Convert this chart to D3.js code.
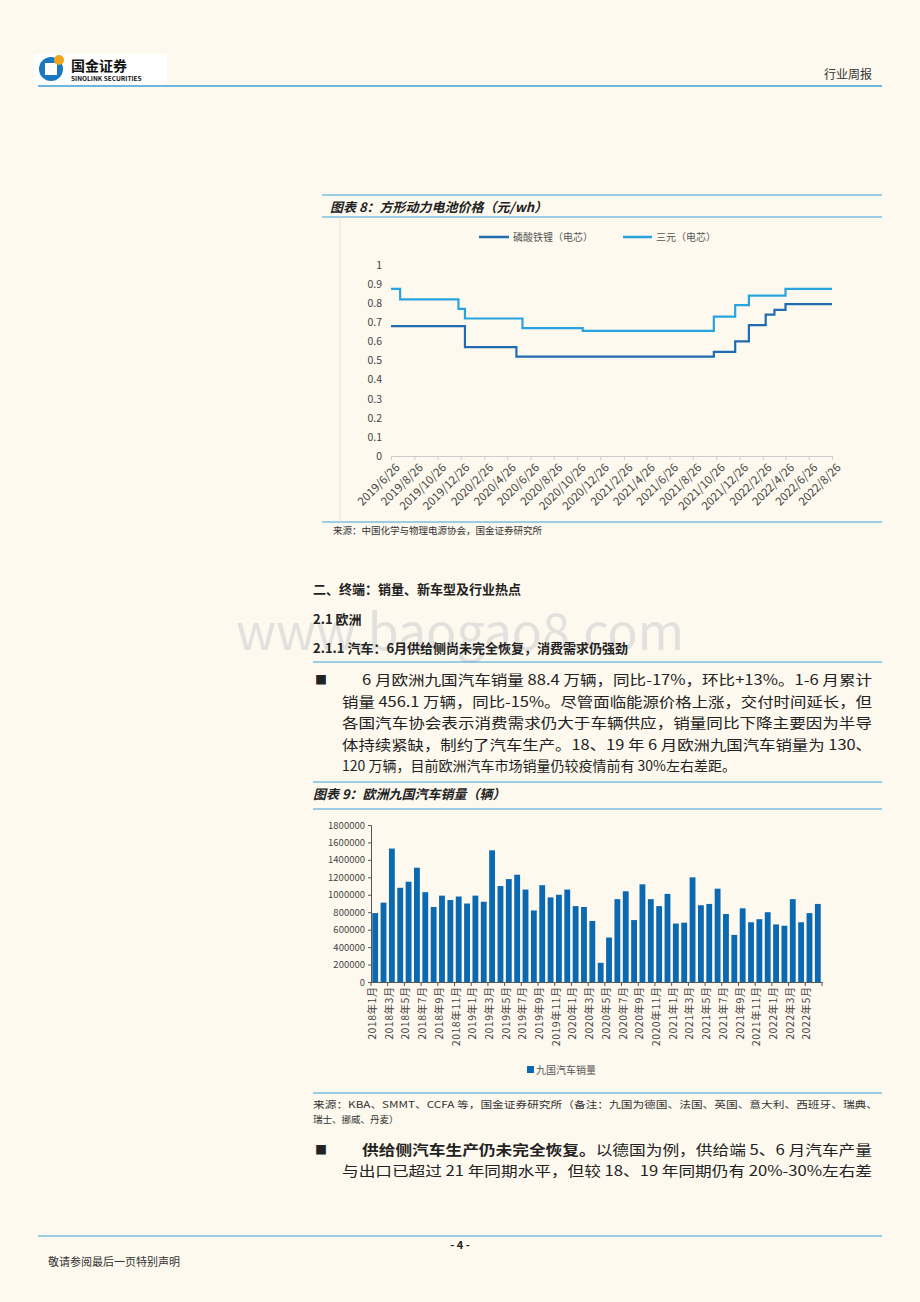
<!DOCTYPE html>
<html><head><meta charset="utf-8">
<script src="https://cdn.jsdelivr.net/npm/d3@7"></script>
<style>body{margin:0;background:#fdf9ee}svg{display:block}text{font-family:"Noto Sans CJK SC","Liberation Sans",sans-serif}</style>
</head><body><svg id="p" width="920" height="1302"></svg>
<script>
// Chart 8 data
const lineTicks=["2019/6/26","2019/8/26","2019/10/26","2019/12/26","2020/2/26","2020/4/26","2020/6/26","2020/8/26","2020/10/26","2020/12/26","2021/2/26","2021/4/26","2021/6/26","2021/8/26","2021/10/26","2021/12/26","2022/2/26","2022/4/26","2022/6/26","2022/8/26"];
const lfpDates=["2019/6/26","2020/1/6","2020/5/20","2021/10/20","2021/12/15","2022/1/20","2022/3/5","2022/3/28","2022/4/26","2022/8/26"];
const lfpValues=[0.68,0.57,0.52,0.545,0.60,0.685,0.74,0.765,0.795,0.795];
const ncmDates=["2019/6/26","2019/7/20","2019/12/20","2020/1/6","2020/6/5","2020/11/10","2021/10/20","2021/12/15","2022/1/20","2022/4/26","2022/8/26"];
const ncmValues=[0.875,0.82,0.77,0.72,0.67,0.655,0.73,0.79,0.84,0.875,0.875];
const seriesNames=["磷酸铁锂（电芯）","三元（电芯）"];
// Chart 9 data
const months=[];for(let y=2018;y<=2022;y++)for(let m=1;m<=12;m++){if(y===2022&&m>6)break;months.push(y+"年"+m+"月");}
const sales=[790000,910000,1530000,1080000,1150000,1310000,1030000,860000,990000,940000,980000,900000,
990000,920000,1510000,1100000,1180000,1230000,1060000,820000,1110000,970000,1000000,1060000,
870000,860000,700000,220000,510000,950000,1040000,710000,1120000,950000,870000,1010000,
670000,680000,1200000,880000,895000,1070000,780000,540000,845000,685000,720000,800000,
660000,645000,950000,685000,790000,895000];
const salesTicks=[0,200000,400000,600000,800000,1000000,1200000,1400000,1600000,1800000];

const svg=d3.select("#p");
const T=(x,y,s,o={})=>{const t=svg.append("text").attr("x",x).attr("y",y).text(s).attr("font-size",o.fs||14).attr("fill",o.c||"#222");
 if(o.b)t.attr("font-weight","bold");if(o.i)t.attr("font-style","italic");if(o.a)t.attr("text-anchor",o.a);return t;};
const L=(x1,y1,x2,y2,c,w)=>svg.append("line").attr("x1",x1).attr("y1",y1).attr("x2",x2).attr("y2",y2).attr("stroke",c).attr("stroke-width",w);
// watermark (behind)
T(460,650,"www.baogao8.com",{fs:50,c:"#d8d8d8",a:"middle"}).attr("font-family","Liberation Sans").attr("opacity",0.7);
// header
svg.append("rect").attr("x",34).attr("y",54).attr("width",133).attr("height",30).attr("fill","#fff");
svg.append("circle").attr("cx",51).attr("cy",69).attr("r",12).attr("fill","#1a78c2");
svg.append("rect").attr("x",45).attr("y",63).attr("width",12).attr("height",12).attr("fill","#fff");
svg.append("circle").attr("cx",59).attr("cy",60).attr("r",5).attr("fill","#f3a51b");
T(71,71,"国金证券",{fs:14,b:1,c:"#111"});
T(71,81,"SINOLINK SECURITIES",{fs:6.5,b:1,c:"#111"});
L(38,86,882,86,"#3aa0d8",1.5);
T(872,79,"行业周报",{fs:12,a:"end",c:"#333"});
// Fig 8 frame
L(322,195,882,195,"#3aa0d8",1);
T(330,212,"图表 8：方形动力电池价格（元/wh）",{fs:13,b:1,i:1});
L(322,217,882,217,"#3aa0d8",1);
L(322,522,882,522,"#3aa0d8",1);
L(340,217,340,522,"#e5e2da",1);
T(333,534,"来源：中国化学与物理电源协会，国金证券研究所",{fs:9.5,c:"#333"});
// chart 8
const pd=d3.timeParse("%Y/%m/%d");
const x8=d3.scaleTime().domain([pd("2019/6/26"),pd("2022/8/26")]).range([391,832]);
const y8=d3.scaleLinear().domain([0,1]).range([456,265]);
const g8=svg.append("g");
const yA=g8.append("g").attr("transform","translate(391,0)").call(d3.axisLeft(y8).tickValues(d3.range(0,1.01,0.1)).tickFormat(d=>d3.format("~g")(+d.toFixed(1))).tickSize(0).tickPadding(9));
yA.select(".domain").remove();
yA.selectAll("text").attr("font-size",10.5).attr("fill","#444").attr("font-family","Liberation Sans");
const xA=g8.append("g").attr("transform","translate(0,456)").call(d3.axisBottom(x8).tickValues(lineTicks.map(pd)).tickFormat((d,i)=>lineTicks[i]).tickSize(4));
xA.select(".domain").attr("stroke","#ccc");xA.selectAll("line").attr("stroke","#ccc");
xA.selectAll("text").attr("font-size",11.5).attr("fill","#444").attr("font-family","Liberation Sans").attr("text-anchor","end").attr("transform","rotate(-45)").attr("dx","-0.2em").attr("dy","0.7em");
const step=d3.line().x(d=>x8(d[0])).y(d=>y8(d[1])).curve(d3.curveStepAfter);
g8.append("path").datum(ncmDates.map((d,i)=>[pd(d),ncmValues[i]])).attr("d",step).attr("fill","none").attr("stroke","#27a4e0").attr("stroke-width",2.2);
g8.append("path").datum(lfpDates.map((d,i)=>[pd(d),lfpValues[i]])).attr("d",step).attr("fill","none").attr("stroke","#1f6cb0").attr("stroke-width",2.2);
L(479,237,509,237,"#1f6cb0",2.5);T(513,241,seriesNames[0],{fs:10,c:"#555"});
L(623,237,652,237,"#27a4e0",2.5);T(656,241,seriesNames[1],{fs:10,c:"#555"});
// text section
T(313,594,"二、终端：销量、新车型及行业热点",{fs:13,b:1});
T(313,624,"2.1 欧洲",{fs:13,b:1});
T(313,653,"2.1.1 汽车：6月供给侧尚未完全恢复，消费需求仍强劲",{fs:13,b:1});
L(313,662,882,662,"#3aa0d8",1);
T(315,685,"■",{fs:12});
const para=["6 月欧洲九国汽车销量 88.4 万辆，同比-17%，环比+13%。1-6 月累计","销量 456.1 万辆，同比-15%。尽管面临能源价格上涨，交付时间延长，但","各国汽车协会表示消费需求仍大于车辆供应，销量同比下降主要因为半导","体持续紧缺，制约了汽车生产。18、19 年 6 月欧洲九国汽车销量为 130、","120 万辆，目前欧洲汽车市场销量仍较疫情前有 30%左右差距。"];
para.forEach((s,i)=>T(i?342:362,685+i*21.5,s,{fs:14,c:"#222"}).attr("textLength",i===4?null:(i?530:510)).attr("lengthAdjust","spacingAndGlyphs"));
L(313,782,882,782,"#3aa0d8",1);
T(313,799,"图表 9：欧洲九国汽车销量（辆）",{fs:13,b:1,i:1});
L(313,809,882,809,"#3aa0d8",1);
// chart 9
const x9=d3.scaleBand().domain(months).range([371,822]).paddingInner(0.3).paddingOuter(0.15);
const y9=d3.scaleLinear().domain([0,1800000]).range([982,825]);
const g9=svg.append("g");
g9.selectAll("rect").data(sales).join("rect").attr("x",(d,i)=>x9(months[i])).attr("width",x9.bandwidth()).attr("y",d=>y9(d)).attr("height",d=>982-y9(d)).attr("fill","#0b69b2");
const yB=g9.append("g").attr("transform","translate(371,0)").call(d3.axisLeft(y9).tickValues(salesTicks).tickFormat(d3.format("d")).tickSize(3));
yB.select(".domain").attr("stroke","#555");yB.selectAll("line").attr("stroke","#555");
yB.selectAll("text").attr("font-size",9.5).attr("fill","#444").attr("font-family","Liberation Sans");
const xB=g9.append("g").attr("transform","translate(0,982)").call(d3.axisBottom(x9).tickValues(months.filter((d,i)=>i%2===0)).tickSize(0).tickPadding(4));
xB.select(".domain").attr("stroke","#555");
xB.selectAll("text").attr("font-size",10.5).attr("fill","#444").attr("text-anchor","end").attr("transform","rotate(-90)").attr("dx","-0.4em").attr("dy","-0.3em").attr("letter-spacing","0.5");
const step9=x9.step();
g9.selectAll(".mt").data(d3.range(0,months.length+1,2)).join("line").attr("x1",i=>x9(months[0])-step9*0.15+i*step9).attr("x2",i=>x9(months[0])-step9*0.15+i*step9).attr("y1",982).attr("y2",986).attr("stroke","#555");
svg.append("rect").attr("x",527).attr("y",1066).attr("width",7).attr("height",7).attr("fill","#0b69b2");
T(536,1074,"九国汽车销量",{fs:10,c:"#555"});
L(313,1093,882,1093,"#3aa0d8",1.2);
T(313,1108,"来源：KBA、SMMT、CCFA 等，国金证券研究所（备注：九国为德国、法国、英国、意大利、西班牙、瑞典、",{fs:9.5,c:"#333"}).attr("textLength",565).attr("lengthAdjust","spacingAndGlyphs");
T(313,1123,"瑞士、挪威、丹麦）",{fs:9.5,c:"#333"});
T(315,1155,"■",{fs:12});
const p2=svg.append("text").attr("x",362).attr("y",1155).attr("font-size",14).attr("fill","#222").attr("textLength",510).attr("lengthAdjust","spacingAndGlyphs");
p2.append("tspan").attr("font-weight","bold").text("供给侧汽车生产仍未完全恢复。");
p2.append("tspan").text("以德国为例，供给端 5、6 月汽车产量");
T(342,1176,"与出口已超过 21 年同期水平，但较 18、19 年同期仍有 20%-30%左右差",{fs:14}).attr("textLength",530).attr("lengthAdjust","spacingAndGlyphs");
// footer
L(38,1236,882,1236,"#3aa0d8",1);
T(460,1249,"- 4 -",{fs:11,b:1,a:"middle"});
T(48,1266,"敬请参阅最后一页特别声明",{fs:11,c:"#333"});
</script></body></html>
